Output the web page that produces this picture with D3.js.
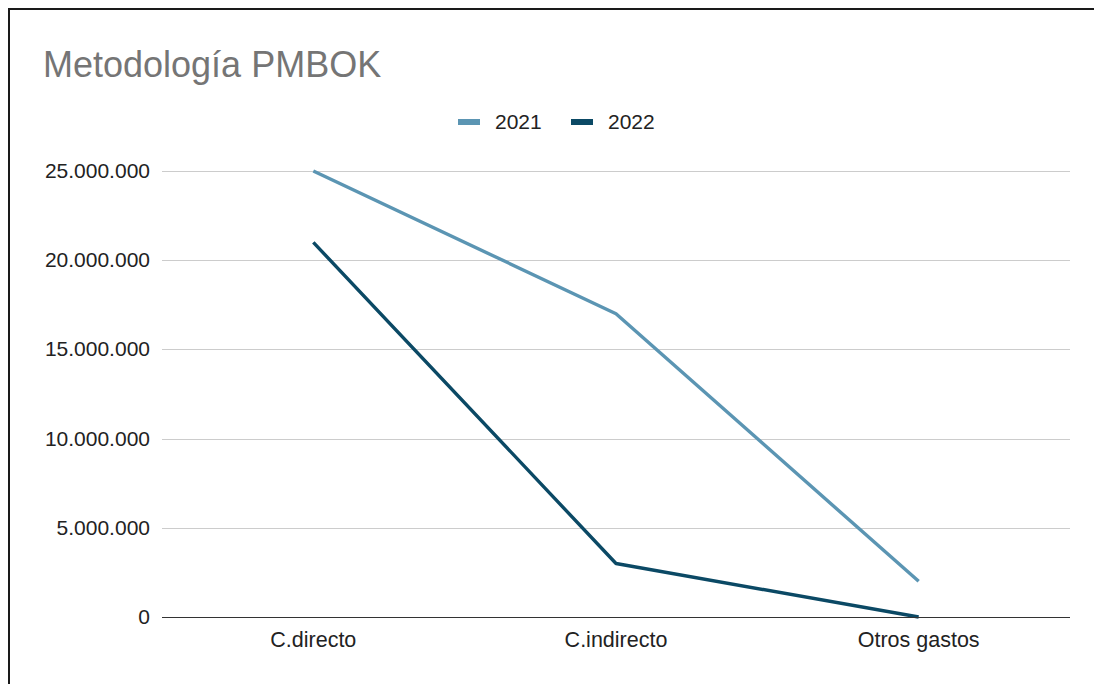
<!DOCTYPE html>
<html>
<head>
<meta charset="utf-8">
<script src="https://cdn.jsdelivr.net/npm/d3@7"></script>
<style>
  body { margin: 0; background: #fff; }
  svg { display: block; font-family: "Liberation Sans", Arial, sans-serif; }
</style>
</head>
<body>
<svg id="chart" width="1094" height="684"></svg>
<script>
// data
var categories = ["C.directo", "C.indirecto", "Otros gastos"];
var seriesNames = ["2021", "2022"];
var values2021 = [25000000, 17000000, 2000000];
var values2022 = [21000000, 3000000, 0];
var yTicks = [0, 5000000, 10000000, 15000000, 20000000, 25000000];
var colors = ["#5b95b3", "#0b4965"];

var svg = d3.select("#chart");

// outer frame (runs off right/bottom)
svg.append("rect")
  .attr("x", 9).attr("y", 9)
  .attr("width", 1200).attr("height", 800)
  .attr("fill", "none")
  .attr("stroke", "#1a1a1a")
  .attr("stroke-width", 2);

var plotLeft = 162, plotRight = 1070, plotTop = 171, plotBottom = 617;

var x = d3.scaleBand().domain(categories).range([plotLeft, plotRight]);
var y = d3.scaleLinear().domain([0, 25000000]).range([plotBottom, plotTop]);

var fmt = function(v) {
  return d3.format(",")(v).replace(/,/g, ".");
};

// title
svg.append("text")
  .attr("x", 43).attr("y", 77)
  .attr("font-size", 36)
  .attr("fill", "#757575")
  .text("Metodología PMBOK");

// gridlines
svg.append("g")
  .selectAll("line")
  .data(yTicks.filter(function(d){ return d > 0; }))
  .join("line")
  .attr("x1", plotLeft).attr("x2", plotRight)
  .attr("y1", function(d){ return Math.round(y(d)) + 0.5; })
  .attr("y2", function(d){ return Math.round(y(d)) + 0.5; })
  .attr("stroke", "#cccccc")
  .attr("stroke-width", 1);

// y labels
svg.append("g")
  .selectAll("text")
  .data(yTicks)
  .join("text")
  .attr("x", 150)
  .attr("y", function(d){ return y(d) + 7; })
  .attr("text-anchor", "end")
  .attr("font-size", 21)
  .attr("fill", "#222")
  .text(fmt);

// lines
var line = d3.line()
  .x(function(d, i){ return x(categories[i]) + x.bandwidth() / 2; })
  .y(function(d){ return y(d); });

[values2021, values2022].forEach(function(vals, i) {
  svg.append("path")
    .datum(vals)
    .attr("d", line)
    .attr("fill", "none")
    .attr("stroke", colors[i])
    .attr("stroke-width", 3.4)
    .attr("stroke-linejoin", "round");
});

// baseline
svg.append("line")
  .attr("x1", plotLeft).attr("x2", plotRight)
  .attr("y1", Math.round(y(0)) + 0.5).attr("y2", Math.round(y(0)) + 0.5)
  .attr("stroke", "#333")
  .attr("stroke-width", 1.2);

// x labels
svg.append("g")
  .selectAll("text")
  .data(categories)
  .join("text")
  .attr("x", function(d){ return x(d) + x.bandwidth() / 2; })
  .attr("y", 647)
  .attr("text-anchor", "middle")
  .attr("font-size", 21.5)
  .attr("fill", "#222")
  .text(function(d){ return d; });

// legend
var legendX = [458, 571];
var lg = svg.append("g");
seriesNames.forEach(function(name, i) {
  lg.append("rect")
    .attr("x", legendX[i]).attr("y", 119)
    .attr("width", 22).attr("height", 6)
    .attr("fill", colors[i]);
  lg.append("text")
    .attr("x", legendX[i] + 37).attr("y", 129)
    .attr("font-size", 21)
    .attr("fill", "#222")
    .text(name);
});
</script>
</body>
</html>
